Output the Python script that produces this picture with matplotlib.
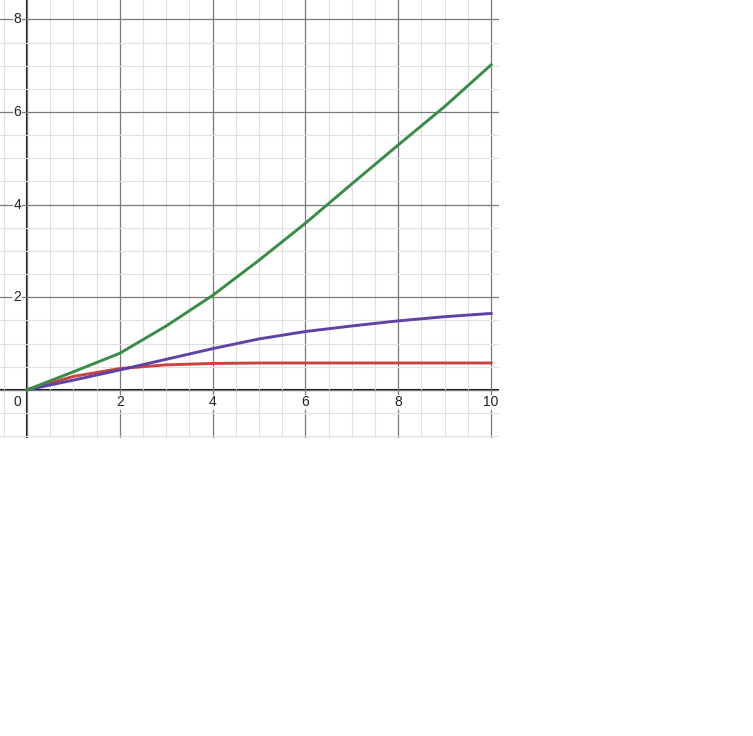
import numpy as np
import matplotlib
matplotlib.use("Agg")
import matplotlib.pyplot as plt

x = [0, 1, 2, 3, 4, 5, 6, 7, 8, 9, 10]
green = [0, 0.39, 0.79, 1.38, 2.04, 2.80, 3.60, 4.45, 5.29, 6.12, 7.02]
red = [0, 0.29, 0.46, 0.54, 0.57, 0.58, 0.58, 0.58, 0.58, 0.58, 0.58]
purple = [0, 0.21, 0.43, 0.66, 0.89, 1.10, 1.26, 1.38, 1.49, 1.58, 1.65]

xticks = [2, 4, 6, 8, 10]
yticks = [2, 4, 6, 8]

plt.rcParams['font.family'] = ['Liberation Sans', 'DejaVu Sans']
fig = plt.figure(figsize=(7.53, 7.36), dpi=100)
ax = fig.add_axes([0, 1 - 438 / 736, 499 / 753, 438 / 736])
for s in ax.spines.values():
    s.set_visible(False)

ax.set_xticks(np.arange(-2, 12, 2))
ax.set_yticks(np.arange(-2, 10, 2))
ax.set_xticks(np.arange(-1, 11, 0.5), minor=True)
ax.set_yticks(np.arange(-1, 9, 0.5), minor=True)
ax.tick_params(which='both', length=0, labelbottom=False, labelleft=False)
ax.grid(which='minor', color='#e0e0e0', linewidth=0.8, zorder=0)
ax.grid(which='major', color='#7a7a7a', linewidth=0.9, zorder=0)
ax.axhline(0, color='#111111', linewidth=1.5, zorder=1)
ax.axvline(0, color='#111111', linewidth=1.5, zorder=1)

ax.plot(x, red, color='#c74440', linewidth=2.1, zorder=3)
ax.plot(x, purple, color='#6042a6', linewidth=2.1, zorder=4)
ax.plot(x, green, color='#388c46', linewidth=2.1, zorder=5)

bb = dict(facecolor='white', edgecolor='none', pad=0.5, alpha=0.9)
for t in xticks:
    ax.text(t, -0.12, str(t), ha='center', va='top', fontsize=10, color='#222222', bbox=bb, zorder=6)
for t in yticks:
    ax.text(-0.13, t, str(t), ha='right', va='center', fontsize=10, color='#222222', bbox=bb, zorder=6)
ax.text(-0.13, -0.12, '0', ha='right', va='top', fontsize=10, color='#222222', bbox=bb, zorder=6)

ax.set_xlim(-0.582, 10.17)
ax.set_ylim(-1.04, 8.42)

fig.savefig('out.png', dpi=100)
